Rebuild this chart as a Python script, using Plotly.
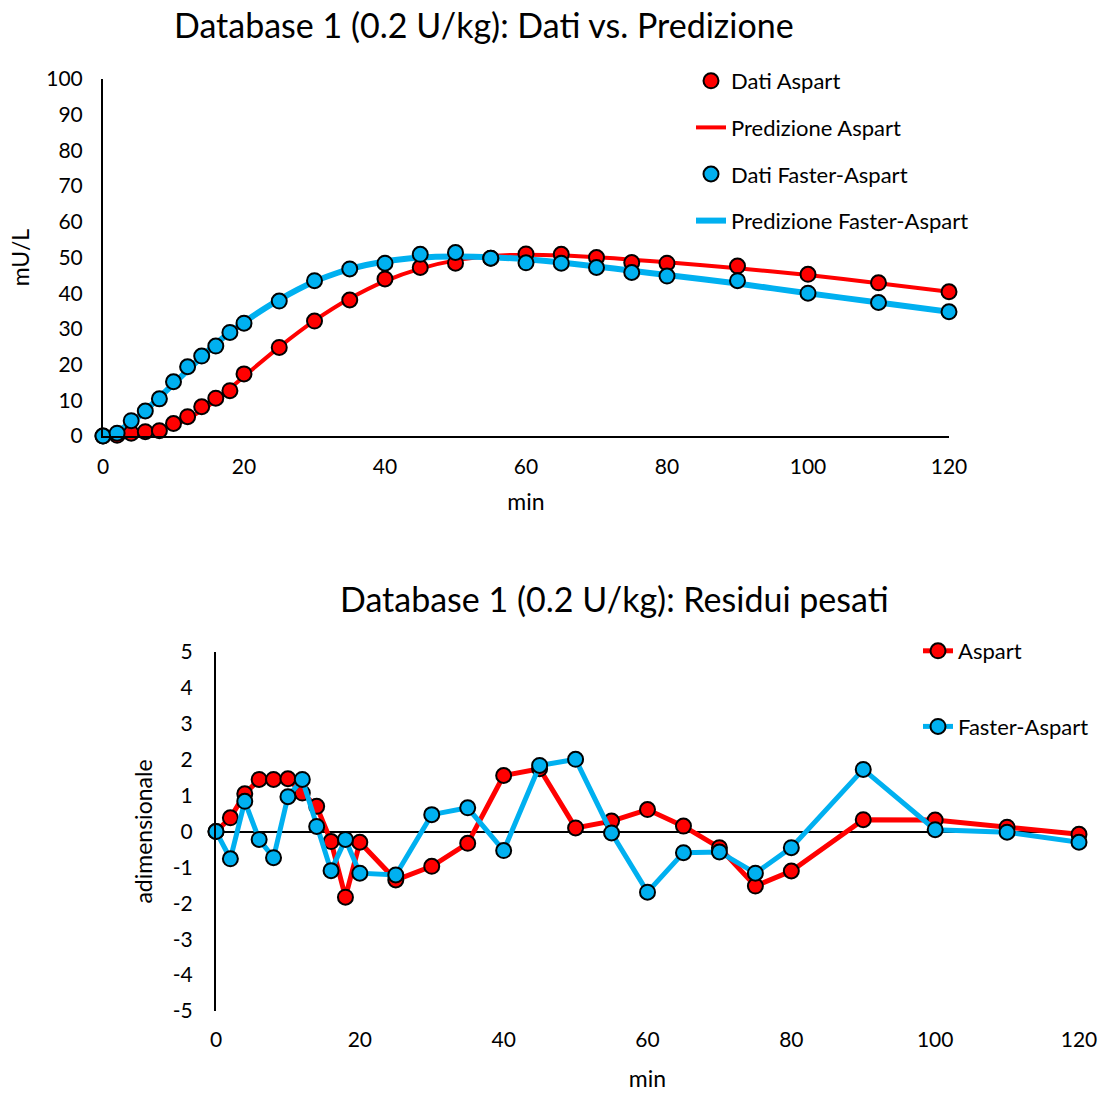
import plotly.graph_objects as go

# ---------------- data ----------------
t = [0, 2, 4, 6, 8, 10, 12, 14, 16, 18, 20, 25, 30, 35, 40, 45, 50, 55, 60, 65, 70, 75, 80, 90, 100, 110, 120]

dati_aspart = [0, 0.2, 0.8, 1.2, 1.5, 3.5, 5.4, 8.2, 10.6, 12.7, 17.4, 24.8, 32.2, 38.1, 44.0,
               47.2, 48.4, 49.8, 51.0, 50.9, 50.0, 48.6, 48.4, 47.6, 45.3, 42.9, 40.4]
pred_aspart = [0, 0.2, 0.6, 1.1, 1.9, 3.0, 4.8, 7.2, 10.0, 13.3, 16.7, 24.9, 32.3, 38.5, 43.4,
               46.9, 49.2, 50.4, 50.8, 50.6, 50.1, 49.4, 48.7, 47.0, 45.1, 42.8, 40.4]
dati_faster = [0, 0.8, 4.3, 7.0, 10.4, 15.2, 19.4, 22.4, 25.2, 29.0, 31.6, 37.8, 43.5, 46.8, 48.4,
               50.9, 51.4, 49.8, 48.5, 48.4, 47.2, 45.8, 44.8, 43.5, 40.0, 37.4, 34.8]
pred_faster = [0, 1.3, 3.8, 7.1, 10.8, 14.6, 18.4, 22.2, 25.8, 29.0, 31.9, 38.2, 43.3, 46.8, 48.9,
               50.0, 50.3, 50.1, 49.5, 48.6, 47.5, 46.3, 45.1, 42.7, 40.0, 37.4, 34.8]

res_aspart = [0, 0.38, 1.05, 1.45, 1.45, 1.47, 1.07, 0.70, -0.28, -1.83, -0.30, -1.35, -0.97, -0.33, 1.56,
              1.75, 0.10, 0.29, 0.61, 0.15, -0.45, -1.52, -1.10, 0.33, 0.32, 0.12, -0.08]
res_faster = [0, -0.76, 0.84, -0.22, -0.73, 0.97, 1.45, 0.14, -1.09, -0.22, -1.16, -1.21, 0.47, 0.66, -0.53,
              1.84, 2.01, -0.04, -1.69, -0.59, -0.57, -1.16, -0.45, 1.73, 0.05, -0.02, -0.30]

x_ticks = [0, 20, 40, 60, 80, 100, 120]
y1_ticks = list(range(0, 101, 10))
y2_ticks = list(range(-5, 6, 1))
y2_ticktext = [str(v) for v in y2_ticks]  # plain hyphen-minus like the original

RED = "#FF0000"
BLUE = "#00B0F0"
FONT = "Lato"
W, H = 1101, 1093

fig = go.Figure()

# ---- top chart: lines first, markers on top ----
fig.add_trace(go.Scatter(x=t, y=pred_aspart, mode="lines", name="Predizione Aspart",
                         line=dict(color=RED, width=4, shape="spline", smoothing=0.6),
                         xaxis="x", yaxis="y", legend="legend", legendgroup="b", legendrank=2,
                         cliponaxis=False))
fig.add_trace(go.Scatter(x=t, y=pred_faster, mode="lines", name="Predizione Faster-Aspart",
                         line=dict(color=BLUE, width=6, shape="spline", smoothing=0.6),
                         xaxis="x", yaxis="y", legend="legend", legendgroup="d", legendrank=4,
                         cliponaxis=False))
fig.add_trace(go.Scatter(x=t, y=dati_aspart, mode="markers", name="Dati Aspart",
                         marker=dict(color=RED, size=15, line=dict(color="black", width=2)),
                         xaxis="x", yaxis="y", legend="legend", legendgroup="a", legendrank=1,
                         cliponaxis=False))
fig.add_trace(go.Scatter(x=t, y=dati_faster, mode="markers", name="Dati Faster-Aspart",
                         marker=dict(color=BLUE, size=15, line=dict(color="black", width=2)),
                         xaxis="x", yaxis="y", legend="legend", legendgroup="c", legendrank=3,
                         cliponaxis=False))

# ---- bottom chart ----
fig.add_trace(go.Scatter(x=t, y=res_aspart, mode="lines+markers", name="Aspart",
                         line=dict(color=RED, width=5),
                         marker=dict(color=RED, size=15, line=dict(color="black", width=2)),
                         xaxis="x2", yaxis="y2", legend="legend2", legendgroup="e",
                         cliponaxis=False))
fig.add_trace(go.Scatter(x=t, y=res_faster, mode="lines+markers", name="Faster-Aspart",
                         line=dict(color=BLUE, width=5),
                         marker=dict(color=BLUE, size=15, line=dict(color="black", width=2)),
                         xaxis="x2", yaxis="y2", legend="legend2", legendgroup="f",
                         cliponaxis=False))

tickfont = dict(family=FONT, size=21, color="black")
axis_common = dict(showgrid=False, ticks="", tickfont=tickfont, fixedrange=True, automargin=False)
title_font = dict(family=FONT, size=23, color="black")

fig.update_layout(
    width=W, height=H,
    margin=dict(l=0, r=0, t=0, b=0, autoexpand=False),
    paper_bgcolor="white", plot_bgcolor="white",
    font=dict(family=FONT, size=21, color="black"),
    xaxis=dict(domain=[103 / W, 949 / W], range=[0, 120], tickvals=x_ticks,
               showline=True, linecolor="black", linewidth=2, zeroline=False,
               ticklabelstandoff=11, anchor="y",
               title=dict(text="min", font=title_font, standoff=17),
               **axis_common),
    yaxis=dict(domain=[1 - 436 / H, 1 - 79 / H], range=[0, 100], tickvals=y1_ticks,
               showline=True, linecolor="black", linewidth=2, zeroline=False,
               ticklabelstandoff=14, anchor="x",
               title=dict(text="mU/L", font=title_font, standoff=10),
               **axis_common),
    xaxis2=dict(domain=[216 / W, 1079 / W], range=[0, 120], tickvals=x_ticks,
                showline=False, zeroline=False, ticklabelstandoff=14, anchor="y2",
                title=dict(text="min", font=title_font, standoff=20),
                **axis_common),
    yaxis2=dict(domain=[1 - 1011 / H, 1 - 652 / H], range=[-5, 5],
                tickvals=y2_ticks, ticktext=y2_ticktext,
                showline=True, linecolor="black", linewidth=2,
                zeroline=True, zerolinecolor="black", zerolinewidth=2,
                ticklabelstandoff=17, anchor="x2",
                title=dict(text="adimensionale", font=title_font, standoff=14),
                **axis_common),
    legend=dict(x=691 / W, y=1 - 60 / H, xanchor="left", yanchor="top",
                traceorder="grouped", tracegroupgap=15,
                font=dict(family=FONT, size=22), bgcolor="rgba(0,0,0,0)"),
    legend2=dict(x=918 / W, y=1 - 630 / H, xanchor="left", yanchor="top",
                 traceorder="grouped", tracegroupgap=44,
                 font=dict(family=FONT, size=22), bgcolor="rgba(0,0,0,0)"),
    showlegend=True,
    annotations=[
        dict(text="Database 1 (0.2 U/kg): Dati vs. Predizione", x=484 / W, y=1 - 25 / H,
             xref="paper", yref="paper", xanchor="center", yanchor="middle", showarrow=False,
             font=dict(family=FONT, size=34, color="black")),
        dict(text="Database 1 (0.2 U/kg): Residui pesati", x=614 / W, y=1 - 598 / H,
             xref="paper", yref="paper", xanchor="center", yanchor="middle", showarrow=False,
             font=dict(family=FONT, size=34, color="black")),
    ],
)

fig.write_html("out.html")
